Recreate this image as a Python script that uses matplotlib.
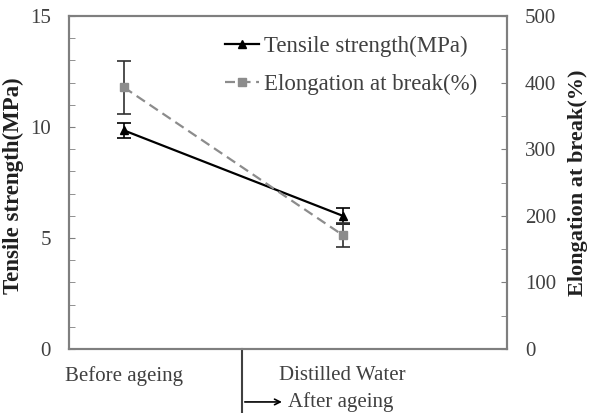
import matplotlib
matplotlib.use("Agg")
import matplotlib.pyplot as plt
from matplotlib.ticker import MultipleLocator

categories = ["Before ageing", "Distilled Water"]
tensile = [9.85, 6.0]
tensile_err = [0.35, 0.35]
elong = [393, 171]
elong_err = [40, 18]
group_label = "After ageing"

plt.rcParams['font.family'] = ['Liberation Serif', 'DejaVu Serif']
xpos = [0.25, 1.25]
gray_axis = '#7f7f7f'
txt = '#404040'

fig = plt.figure(figsize=(5.89, 4.13), dpi=100)
ax = fig.add_axes([69/589, 1-349/413, (507-69)/589, (349-16)/413])
ax2 = ax.twinx()

l1, = ax.plot(xpos, tensile, color='black', lw=1.6, marker='^', ms=6, zorder=3)
ax.errorbar(xpos, tensile, yerr=tensile_err, fmt='none', ecolor='black', elinewidth=1.2, capsize=5, capthick=1.2)
l2, = ax2.plot(xpos, elong, color='#8c8c8c', lw=1.6, ls=(0, (4.5, 2.5)), marker='s', ms=5.5, zorder=3)
ax2.errorbar(xpos, elong, yerr=elong_err, fmt='none', ecolor='#303030', elinewidth=1.2, capsize=5, capthick=1.2)

ax.set_xlim(0, 2)
ax.set_ylim(0, 15)
ax2.set_ylim(0, 500)
ax.yaxis.set_major_locator(MultipleLocator(5))
ax.yaxis.set_minor_locator(MultipleLocator(1))
ax2.yaxis.set_major_locator(MultipleLocator(100))
ax2.yaxis.set_minor_locator(MultipleLocator(50))
ax.set_xticks(xpos)
ax.set_xticklabels(categories, fontsize=15, color=txt)
ax.tick_params(axis='x', length=0, pad=12)
ax.tick_params(axis='y', which='both', direction='in', length=4, color=gray_axis, labelsize=15, labelcolor=txt, pad=13)
ax2.tick_params(axis='y', which='both', direction='in', length=4, color=gray_axis, labelsize=15, labelcolor=txt, pad=13)
for a in (ax, ax2):
    for s in a.spines.values():
        s.set_color(gray_axis)
        s.set_linewidth(1.5)

ax.set_ylabel("Tensile strength(MPa)", fontsize=16.5, fontweight='bold', color='#202020')
ax.yaxis.set_label_coords(-0.103, 0.49)
ax2.set_ylabel("Elongation at break(%)", fontsize=16, fontweight='bold', color='#202020')
ax2.yaxis.set_label_coords(1.14, 0.5)

leg = ax.legend([l1, l2], ["Tensile strength(MPa)", "Elongation at break(%)"], loc='upper left',
                bbox_to_anchor=((225-69)/438, 0.94), frameon=False, fontsize=16.5, handlelength=1.5,
                handletextpad=0.2, labelspacing=0.72, borderpad=0, borderaxespad=0)
for t in leg.get_texts():
    t.set_color(txt)

# divider and arrow below axis
xd = 0.79
ax.plot([xd, xd], [0, -0.195], transform=ax.get_xaxis_transform(), color='#404040', lw=1.5, clip_on=False)
ax.annotate("", xy=(0.985, -0.159), xytext=(xd, -0.159), xycoords=ax.get_xaxis_transform(),
            arrowprops=dict(arrowstyle='->', color='black', lw=1.2), annotation_clip=False)
ax.text(1.0, -0.159, group_label, transform=ax.get_xaxis_transform(), fontsize=15, color=txt,
        va='center', ha='left')

fig.savefig("out.png", dpi=100)
